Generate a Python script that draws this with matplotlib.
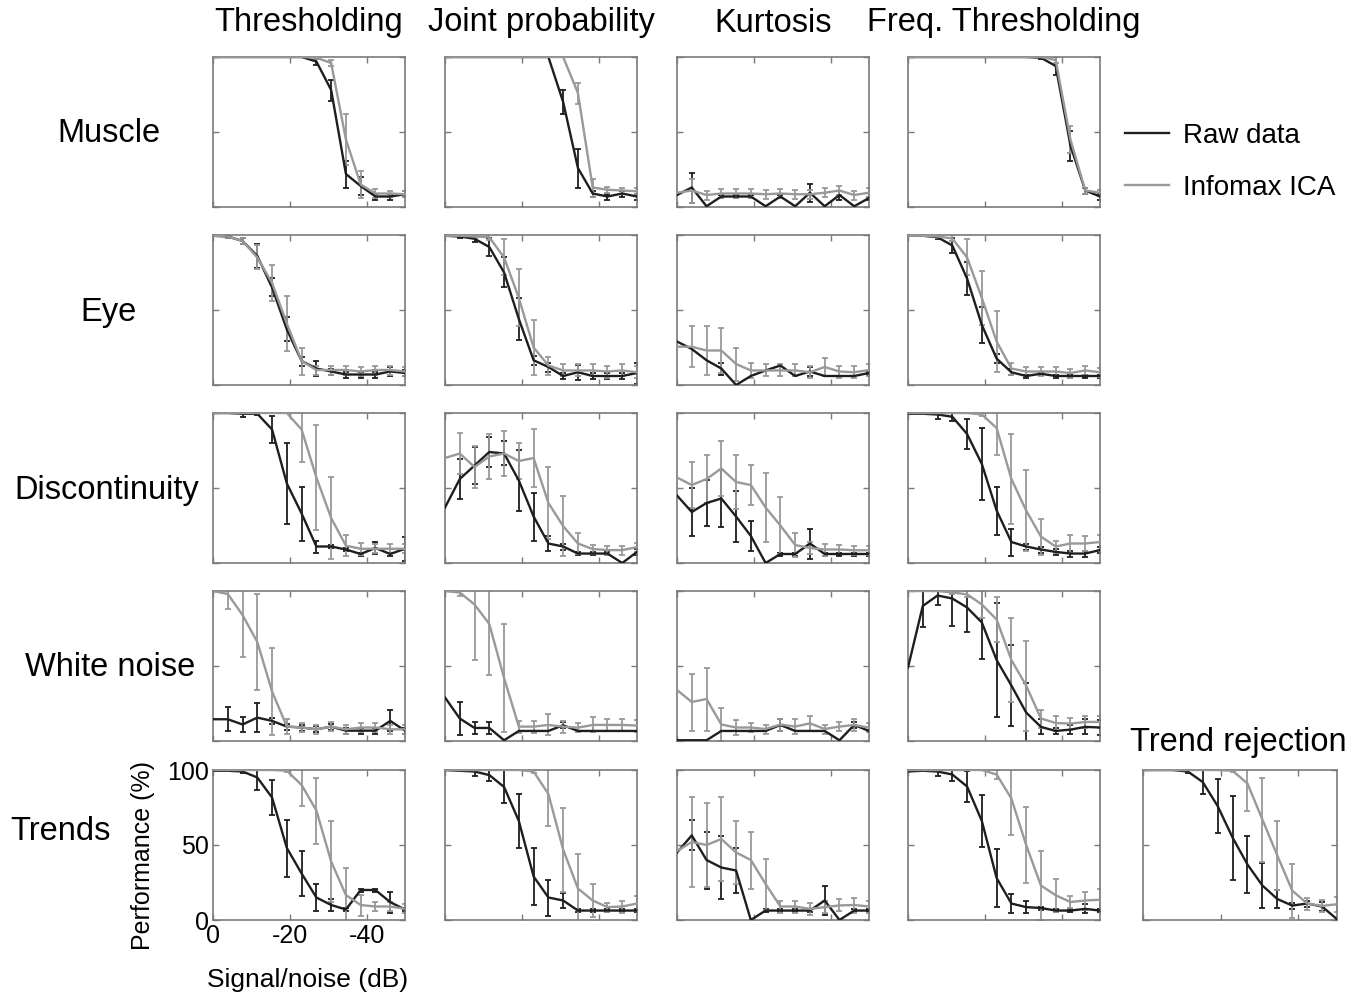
import numpy as np
import matplotlib
matplotlib.use("Agg")
import matplotlib.pyplot as plt

plt.rcParams['font.family'] = ['Liberation Sans', 'DejaVu Sans']

# signal/noise levels (dB), 14 levels from 0 to -50
snr = np.linspace(0, -50, 14)

methods = ["Thresholding", "Joint probability", "Kurtosis", "Freq. Thresholding"]
artifacts = ["Muscle", "Eye", "Discontinuity", "White noise", "Trends"]
series_labels = ["Raw data", "Infomax ICA"]
yticks = [0, 50, 100]
ytick_labels = ["0", "50", "100"]
xticks = [0, -20, -40]
xtick_labels = ["0", "-20", "-40"]

# ---- Muscle
muscle_thr_raw = [100, 100, 100, 100, 100, 100, 100, 97, 78, 22, 14, 7, 7, 8.5]
muscle_thr_raw_err = [0, 0, 0, 0, 0, 0, 0, 2, 7, 9, 6, 2, 2, 2]
muscle_thr_ica = [100, 100, 100, 100, 100, 100, 100, 99.5, 96, 45, 15, 9, 9, 8.5]
muscle_thr_ica_err = [0, 0, 0, 0, 0, 0, 0, 1, 2, 17, 9, 3, 2, 2]

muscle_jp_raw = [100, 100, 100, 100, 100, 100, 100, 100, 70, 26, 9, 7, 9, 7]
muscle_jp_raw_err = [0, 0, 0, 0, 0, 0, 0, 0, 8, 13, 2, 2, 2, 2]
muscle_jp_ica = [100, 100, 100, 100, 100, 100, 100, 100, 100, 76, 13, 11.5, 11, 10.5]
muscle_jp_ica_err = [0, 0, 0, 0, 0, 0, 0, 0, 0, 7, 6, 2, 2, 2]

muscle_kurt_raw = [8, 13, 0.5, 7, 7, 7, 0.5, 7, 0.5, 9.5, 0.5, 8, 0.5, 6]
muscle_kurt_raw_err = [0, 10, 0, 1, 1, 1, 0, 1, 0, 6, 0, 3, 0, 1]
muscle_kurt_ica = [9.5, 11, 8, 9, 9, 9, 8.5, 9, 8.5, 8.5, 9.5, 11, 8, 9.5]
muscle_kurt_ica_err = [0, 8, 3, 3, 3, 3, 3, 3, 3, 3, 3, 3, 3, 3]

muscle_freq_raw = [100, 100, 100, 100, 100, 100, 100, 100, 100, 99.5, 94, 41, 11, 7]
muscle_freq_raw_err = [0, 0, 0, 0, 0, 0, 0, 0, 0, 1, 6, 10, 2, 2]
muscle_freq_ica = [100, 100, 100, 100, 100, 100, 100, 100, 100, 100, 98, 45, 11, 9.5]
muscle_freq_ica_err = [0, 0, 0, 0, 0, 0, 0, 0, 0, 0, 2, 9, 2, 2]

# ---- Eye
eye_thr_raw = [99.5, 99, 96, 86, 65, 37, 16, 11, 9, 7, 7, 7, 9, 8]
eye_thr_raw_err = [0, 1, 2, 8, 6, 8, 3, 5, 2, 2, 2, 2, 3, 2]
eye_thr_ica = [99.5, 99, 96, 85, 68, 41, 16, 10, 10, 10, 9, 10, 10, 9]
eye_thr_ica_err = [0, 1, 2, 8, 12, 18, 9, 3, 3, 3, 3, 3, 3, 3]

eye_jp_raw = [99.5, 99, 97.5, 92, 75, 44, 16.5, 12, 6, 8.5, 6, 6, 6, 8]
eye_jp_raw_err = [0, 1, 2, 6, 10, 14, 3, 3, 2, 5, 2, 2, 2, 7]
eye_jp_ica = [99.5, 99.5, 99, 98.5, 85, 58, 25, 13, 9.7, 9.7, 9.7, 9, 9.7, 8.5]
eye_jp_ica_err = [0, 0, 1, 2, 12, 19, 18, 6, 4, 4, 4, 4, 4, 4]

eye_kurt_raw = [29, 24, 16.5, 11, 0, 6, 9.7, 13, 6, 9, 6, 6, 6, 8]
eye_kurt_raw_err = [0, 0, 0, 4, 0, 0, 0, 0, 0, 3, 0, 0, 0, 1]
eye_kurt_ica = [25.5, 25.5, 23, 23, 14, 9.7, 9.7, 9.7, 9.7, 8.5, 12, 9, 8.5, 10]
eye_kurt_ica_err = [0, 13.5, 16, 15, 11, 5, 4, 4, 4, 4, 6, 4, 4, 4]

eye_freq_raw = [99.5, 99.5, 98.5, 93, 71, 40, 17.6, 8.5, 6, 7.5, 6, 6, 6, 6]
eye_freq_raw_err = [0, 0, 1, 5, 11, 12, 3, 2, 1, 1, 1, 1, 1, 1]
eye_freq_ica = [99.5, 99.5, 99, 97.7, 85, 58, 29, 11, 9, 9, 9, 8, 9.7, 8.5]
eye_freq_ica_err = [0, 0, 1, 2, 12, 18, 20, 4, 3, 3, 3, 3, 3, 3]

# ---- Discontinuity
disc_thr_raw = [100, 100, 99.5, 99.5, 89, 53, 33, 11, 11, 9, 6, 10, 6, 9.5]
disc_thr_raw_err = [0, 0, 2, 1, 9, 27, 18, 4, 1, 1, 1, 4, 1, 8]
disc_thr_ica = [100, 100, 100, 100, 100, 100, 89, 57, 30, 11.5, 9.5, 9.5, 9.5, 9.5]
disc_thr_ica_err = [0, 0, 0, 0, 0, 0, 22, 35, 27, 7, 4, 3, 3, 3]

disc_jp_raw = [37, 56, 65, 74, 73, 55, 31, 13, 11, 6.3, 6.3, 6.3, 0, 7.4]
disc_jp_raw_err = [0, 13, 12, 10, 8, 20, 16, 5, 2, 1, 1, 1, 0, 2]
disc_jp_ica = [70, 73, 64, 71, 73, 68, 70, 40, 24.6, 13, 9.3, 8.6, 8.6, 10.6]
disc_jp_ica_err = [0, 13.5, 14, 15, 15, 12, 19, 24, 20, 7, 3, 3, 3, 3]

disc_kurt_raw = [45, 34, 40, 43, 31, 18, 0, 6, 6, 13, 6, 6, 6, 6]
disc_kurt_raw_err = [0, 16, 15, 19, 17, 10, 0, 1, 1, 10, 1, 1, 1, 1]
disc_kurt_ica = [57, 52, 56, 63, 54, 52, 37, 25, 12, 10, 9, 9, 8.5, 8.5]
disc_kurt_ica_err = [0, 15, 16, 18, 18, 13.5, 23, 19, 8, 4, 4, 3, 3, 3]

disc_freq_raw = [99.5, 99.5, 99, 97.5, 86, 66, 35, 14, 11, 9, 7.4, 6.3, 6.3, 8.6]
disc_freq_raw_err = [0, 0, 3, 3, 10, 24, 16, 9, 2, 2, 2, 2, 2, 2]
disc_freq_ica = [100, 100, 100, 100, 100, 99, 90, 56, 35, 17.6, 11, 13, 13, 14]
disc_freq_ica_err = [0, 0, 0, 0, 0, 1, 18, 30, 27, 12, 4, 6, 5, 5]

# ---- White noise
noise_thr_raw = [14.5, 14.5, 11, 15.6, 13.4, 9.6, 9, 7.8, 9.6, 6.9, 6.9, 6.9, 13.4, 6.9]
noise_thr_raw_err = [0, 8, 5, 9.5, 2, 2, 2, 2, 2, 2, 2, 2, 7, 2]
noise_thr_ica = [100, 98, 84, 66, 33, 9.6, 9, 7.8, 9.6, 7.8, 9, 9, 7.8, 7.8]
noise_thr_ica_err = [0, 10, 28, 32, 29, 5, 3, 3, 3, 3, 3, 3, 3, 3]

noise_jp_raw = [29, 15, 8.7, 8.7, 0.5, 6.7, 6.7, 6.7, 10.5, 6.7, 6.7, 6.7, 6.7, 6.7]
noise_jp_raw_err = [0, 11, 4, 4, 0, 0, 0, 0, 2, 0, 0, 0, 0, 0]
noise_jp_ica = [100, 99, 91, 78, 42, 9.6, 9.6, 10.7, 9.6, 8.9, 10.7, 10.7, 10.7, 10.3]
noise_jp_ica_err = [0, 2, 37, 34, 36, 4, 4, 7, 4, 3, 5, 4, 4, 4]

noise_kurt_raw = [0.5, 0.5, 0.5, 6.7, 6.7, 6.7, 6.7, 10.7, 6.7, 6.7, 6.7, 0.5, 10.7, 6.7]
noise_kurt_raw_err = [0, 0, 0, 0, 0, 0, 0, 4, 0, 0, 0, 0, 2, 0]
noise_kurt_ica = [34, 26, 28, 11, 9, 9, 8, 11, 9.6, 11.8, 8, 9.6, 10.7, 8.9]
noise_kurt_ica_err = [0, 19, 21, 11, 5, 3, 3, 4, 5, 5, 3, 3, 4, 3]

noise_freq_raw = [49, 90, 97, 95, 89, 79, 54, 37, 19, 9.4, 6.7, 7.6, 9.4, 9]
noise_freq_raw_err = [0, 14, 6, 18, 16, 24, 38, 27, 20, 5, 2, 3, 5, 5]
noise_freq_ica = [100, 100, 100, 99, 97.8, 91, 81, 54, 37, 15, 12, 11.6, 12.7, 12.7]
noise_freq_ica_err = [0, 0, 0, 1, 2, 9, 15, 28, 30, 6, 5, 4, 4, 4]

# ---- Trends
trend_thr_raw = [99.5, 99.5, 99, 95, 81.6, 48, 31, 15, 10, 7, 20, 20, 11.9, 7]
trend_thr_raw_err = [0, 0, 1, 8, 11.5, 19, 15, 9, 4, 1, 1, 1, 7, 1]
trend_thr_ica = [100, 100, 100, 100, 100, 99.5, 90, 73, 39, 16.6, 10, 9, 9, 7.5]
trend_thr_ica_err = [0, 0, 0, 0, 0, 1, 14, 22, 27, 18, 7, 3, 3, 3]

trend_jp_raw = [100, 99.5, 99, 96.6, 88.7, 66, 29, 15, 13, 6.3, 6.3, 6.3, 6.3, 6.3]
trend_jp_raw_err = [0, 0, 3, 4, 11, 18, 19, 12, 5, 1, 1, 1, 1, 1]
trend_jp_ica = [100, 100, 100, 100, 100, 100, 99, 84, 47, 21, 13, 8.6, 9, 11]
trend_jp_ica_err = [0, 0, 0, 0, 0, 0, 1, 21, 28, 23, 11, 3, 4, 5]

trend_kurt_raw = [45, 56.4, 40, 35, 33, 0, 6.3, 6.3, 6.3, 6.3, 13, 0, 6.3, 6.3]
trend_kurt_raw_err = [0, 10, 19, 21, 15, 0, 1, 1, 1, 1, 9.5, 0, 1, 1]
trend_kurt_ica = [46, 52, 50, 54, 45, 40, 24, 9, 9, 7.4, 8.6, 9.7, 10, 9]
trend_kurt_ica_err = [0, 30, 28, 28, 21, 19, 17, 4, 4, 4, 4, 4, 5, 4]

trend_freq_raw = [99, 99.5, 99, 97, 89, 66, 28, 11, 8.6, 8, 6.3, 6.3, 7.4, 6.3]
trend_freq_raw_err = [0, 0, 3, 4, 10.5, 17.5, 19.5, 6.5, 4, 1, 1, 1, 3, 1]
trend_freq_ica = [100, 100, 100, 100, 100, 100, 97, 81, 50, 23, 16.5, 12, 13, 13.5]
trend_freq_ica_err = [0, 0, 0, 0, 0, 0, 3, 24, 25.5, 23, 11, 4, 6, 7]

# ---- Trend rejection
trendrej_raw = [100, 100, 100, 99, 92, 76, 55, 37, 23, 14, 9.6, 11, 9, 0.5]
trendrej_raw_err = [0, 0, 0, 1, 8, 18, 28, 19, 15, 6, 2, 2, 3, 0]
trendrej_ica = [100, 100, 100, 100, 100, 100, 99.5, 91, 67, 43, 19.6, 11, 9.4, 10.5]
trendrej_ica_err = [0, 0, 0, 0, 0, 0, 1, 18, 28, 23, 18, 4, 4, 5]

grid = [
    [(muscle_thr_raw, muscle_thr_raw_err, muscle_thr_ica, muscle_thr_ica_err),
     (muscle_jp_raw, muscle_jp_raw_err, muscle_jp_ica, muscle_jp_ica_err),
     (muscle_kurt_raw, muscle_kurt_raw_err, muscle_kurt_ica, muscle_kurt_ica_err),
     (muscle_freq_raw, muscle_freq_raw_err, muscle_freq_ica, muscle_freq_ica_err)],
    [(eye_thr_raw, eye_thr_raw_err, eye_thr_ica, eye_thr_ica_err),
     (eye_jp_raw, eye_jp_raw_err, eye_jp_ica, eye_jp_ica_err),
     (eye_kurt_raw, eye_kurt_raw_err, eye_kurt_ica, eye_kurt_ica_err),
     (eye_freq_raw, eye_freq_raw_err, eye_freq_ica, eye_freq_ica_err)],
    [(disc_thr_raw, disc_thr_raw_err, disc_thr_ica, disc_thr_ica_err),
     (disc_jp_raw, disc_jp_raw_err, disc_jp_ica, disc_jp_ica_err),
     (disc_kurt_raw, disc_kurt_raw_err, disc_kurt_ica, disc_kurt_ica_err),
     (disc_freq_raw, disc_freq_raw_err, disc_freq_ica, disc_freq_ica_err)],
    [(noise_thr_raw, noise_thr_raw_err, noise_thr_ica, noise_thr_ica_err),
     (noise_jp_raw, noise_jp_raw_err, noise_jp_ica, noise_jp_ica_err),
     (noise_kurt_raw, noise_kurt_raw_err, noise_kurt_ica, noise_kurt_ica_err),
     (noise_freq_raw, noise_freq_raw_err, noise_freq_ica, noise_freq_ica_err)],
    [(trend_thr_raw, trend_thr_raw_err, trend_thr_ica, trend_thr_ica_err),
     (trend_jp_raw, trend_jp_raw_err, trend_jp_ica, trend_jp_ica_err),
     (trend_kurt_raw, trend_kurt_raw_err, trend_kurt_ica, trend_kurt_ica_err),
     (trend_freq_raw, trend_freq_raw_err, trend_freq_ica, trend_freq_ica_err)],
]

W, H = 1365, 1001
BLACK = "#1e1e1e"
GRAY = "#999999"
FRAME = "#7a7a7a"

col_left = [213, 445, 677, 908]
row_top = [57, 235, 413, 591, 770]
pw, ph = 192, 150


def make_ax(fig, left, top, w=pw, h=ph):
    return fig.add_axes([left / W, 1 - (top + h) / H, w / W, h / H])


def draw_panel(ax, raw, raw_err, ica, ica_err):
    lines = []
    for y, e, c in ((raw, raw_err, BLACK), (ica, ica_err, GRAY)):
        y = np.asarray(y, float)
        e = np.asarray(e, float)
        m = e > 0
        ax.errorbar(snr[m], y[m], yerr=e[m], fmt='none', ecolor=c,
                    elinewidth=1.3, capsize=2.2, capthick=1.3, zorder=2)
        ln, = ax.plot(snr, y, color=c, lw=1.7, zorder=3)
        lines.append(ln)
    ax.set_xlim(0, -50)
    ax.set_ylim(0, 100)
    ax.set_xticks(xticks)
    ax.set_yticks(yticks)
    ax.tick_params(direction='in', length=4, width=1, color=FRAME,
                   top=True, right=True, labelbottom=False, labelleft=False)
    for s in ax.spines.values():
        s.set_color(FRAME)
        s.set_linewidth(1.2)
    return lines


fig = plt.figure(figsize=(W / 100, H / 100), dpi=100)

handles = None
for r in range(5):
    for c in range(4):
        ax = make_ax(fig, col_left[c], row_top[r])
        lines = draw_panel(ax, *grid[r][c])
        if handles is None:
            handles = lines
        if r == 4 and c == 0:
            ax.tick_params(labelbottom=True, labelleft=True, labelsize=18, pad=3)
            ax.set_xticklabels(xtick_labels)
            ax.set_yticklabels(ytick_labels)
            ax.set_ylabel("Performance (%)", fontsize=18)
            ax.yaxis.set_label_coords(-0.30, 0.43)
            ax.set_xlabel("Signal/noise (dB)", fontsize=19)
            ax.xaxis.set_label_coords(0.49, -0.32)

ax = make_ax(fig, 1143, 770, 194, 150)
draw_panel(ax, trendrej_raw, trendrej_raw_err, trendrej_ica, trendrej_ica_err)

# column titles
for c, name in enumerate(methods):
    fig.text((col_left[c] + pw / 2) / W, 1 - 23 / H, name, ha='center', va='center', fontsize=23.5)
fig.text(1238 / W, 1 - 742 / H, "Trend rejection", ha='center', va='center', fontsize=23.5)

# row labels
row_label_pos = [(109, 133), (109, 313), (107, 490), (110, 667), (60, 832)]
for name, (x, y) in zip(artifacts, row_label_pos):
    fig.text(x / W, 1 - y / H, name, ha='center', va='center', fontsize=23.5)

fig.legend(handles, series_labels, loc='center left',
           bbox_to_anchor=(1125 / W, 1 - 162 / H), frameon=False, fontsize=20,
           handlelength=1.6, handletextpad=0.5, labelspacing=0.95,
           borderpad=0, borderaxespad=0)

fig.savefig("out.png", dpi=100)
